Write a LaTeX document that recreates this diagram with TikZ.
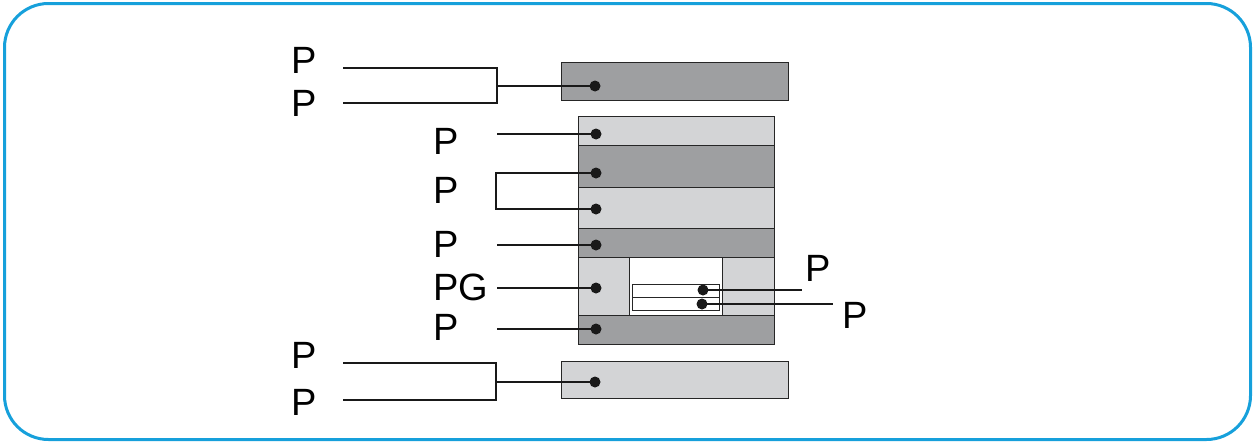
\documentclass[tikz,border=0pt]{standalone}
\usepackage{fontspec}
\setmainfont{Liberation Sans}
\definecolor{frameblue}{RGB}{22,160,219}
\definecolor{darkband}{RGB}{158,159,161}
\definecolor{lightband}{RGB}{211,212,214}
\tikzset{
  lbl/.style={font=\fontsize{38}{40}\selectfont, inner sep=0pt, anchor=base west},
  cell/.style={draw=black!85, line width=0.9pt, inner sep=0pt, anchor=north west},
  dk/.style={cell, fill=darkband},
  lt/.style={cell, fill=lightband},
  wh/.style={cell, fill=white},
  slot/.style={cell, fill=white, line width=0.7pt},
  dot/.style={circle, fill=black!90, inner sep=0pt, minimum size=11pt},
  wire/.style={line width=1.4pt, black!90},
}
\begin{document}
\begin{tikzpicture}[x=1pt, y=-1pt]
  \useasboundingbox (0,0) rectangle (1255,442);
  % outer frame
  \draw[frameblue, line width=3pt, rounded corners=44pt] (4.5,3.5) rectangle (1250.5,439.5);

  % top plate
  \node[dk, minimum width=227pt, minimum height=38pt] (topplate) at (561,62) {};
  % layered stack
  \node[lt, minimum width=196pt, minimum height=29pt] (b1) at (578,116) {};
  \node[dk, minimum width=196pt, minimum height=42pt] (b2) at (578,145) {};
  \node[lt, minimum width=196pt, minimum height=41pt] (b3) at (578,187) {};
  \node[dk, minimum width=196pt, minimum height=29pt] (b4) at (578,228) {};
  \node[lt, minimum width=51pt, minimum height=58pt] (ml) at (578,257) {};
  \node[wh, minimum width=93pt, minimum height=58pt] (mm) at (629,257) {};
  \node[lt, minimum width=52pt, minimum height=58pt] (mr) at (722,257) {};
  \node[dk, minimum width=196pt, minimum height=29pt] (b5) at (578,315) {};
  \node[slot, minimum width=87pt, minimum height=13pt] (s1) at (632,284) {};
  \node[slot, minimum width=87pt, minimum height=13pt] (s2) at (632,297) {};
  % bottom plate
  \node[lt, minimum width=227pt, minimum height=37pt] (botplate) at (561,361) {};

  % contact dots
  \node[dot] (dtop) at (595,86) {};
  \node[dot] (d1) at (596,134) {};
  \node[dot] (d2) at (596,173) {};
  \node[dot] (d3) at (596,209) {};
  \node[dot] (d4) at (596,245) {};
  \node[dot] (d5) at (596,288) {};
  \node[dot] (d6) at (596,329) {};
  \node[dot] (ds1) at (703,290) {};
  \node[dot] (ds2) at (702,304) {};
  \node[dot] (dbot) at (595,382) {};

  % labels
  \node[lbl] (lt1) at (291,73) {P};
  \node[lbl] (lt2) at (291,116) {P};
  \node[lbl] (ls1) at (433,154) {P};
  \node[lbl] (ls2) at (433,203) {P};
  \node[lbl] (ls3) at (433,257) {P};
  \node[lbl] (ls4) at (433,300) {PG};
  \node[lbl] (ls5) at (433,340) {P};
  \node[lbl] (lb1) at (291,368) {P};
  \node[lbl] (lb2) at (291,415) {P};
  \node[lbl] (lr1) at (805,281) {P};
  \node[lbl] (lr2) at (842,328) {P};

  % free ends of the leader lines
  \coordinate (et1) at (343,68);
  \coordinate (et2) at (343,103);
  \coordinate (jt) at (497,86);
  \coordinate (es1) at (497,134);
  \coordinate (js) at (496,191);
  \coordinate (es3) at (497,245);
  \coordinate (es4) at (497,288);
  \coordinate (es5) at (497,329);
  \coordinate (er1) at (802,290);
  \coordinate (er2) at (833,304);
  \coordinate (eb1) at (343,363);
  \coordinate (eb2) at (343,400);
  \coordinate (jb) at (496,382);

  % leader lines
  \draw[wire] (et1) -| (jt) |- (et2);
  \draw[wire] (jt) -- (dtop.center);
  \draw[wire] (es1) -- (d1.center);
  \draw[wire] (d2.center) -| (js) |- (d3.center);
  \draw[wire] (es3) -- (d4.center);
  \draw[wire] (es4) -- (d5.center);
  \draw[wire] (es5) -- (d6.center);
  \draw[wire] (ds1.center) -- (er1);
  \draw[wire] (ds2.center) -- (er2);
  \draw[wire] (eb1) -| (jb) |- (eb2);
  \draw[wire] (jb) -- (dbot.center);
\end{tikzpicture}
\end{document}
